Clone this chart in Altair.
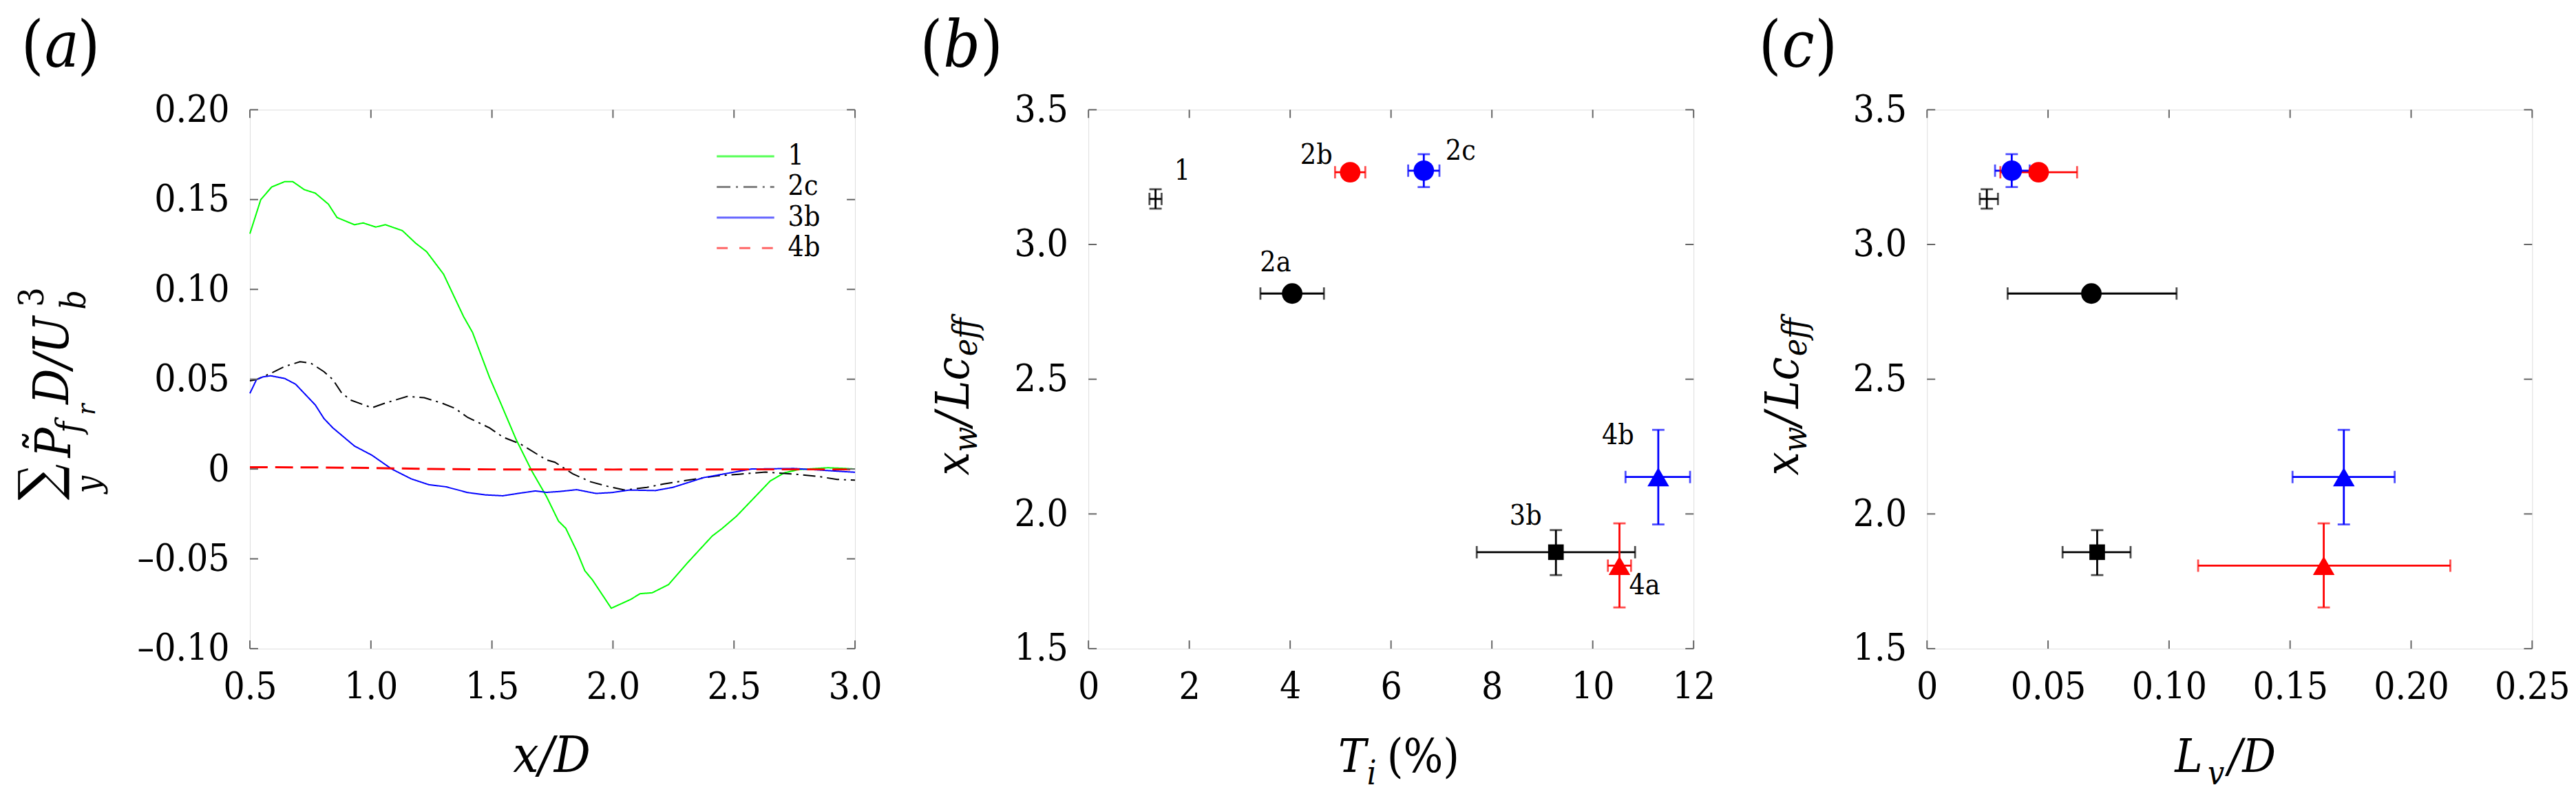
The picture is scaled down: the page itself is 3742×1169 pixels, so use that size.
import altair as alt
import pandas as pd

FONT = "DejaVu Serif Condensed, DejaVu Serif"
W, H = 884, 787
TICK = 12
FRAME = "#666666"
LABEL_FS = 55

s1_x = [0.5, 0.545, 0.59, 0.644, 0.677, 0.725, 0.77, 0.824, 0.86, 0.932, 0.968, 1.02, 1.06, 1.13,
        1.185, 1.23, 1.30, 1.383, 1.42, 1.49, 1.536, 1.60, 1.666, 1.725, 1.775, 1.805, 1.85, 1.884,
        1.914, 1.993, 2.073, 2.112, 2.162, 2.23, 2.31, 2.41, 2.45, 2.51, 2.589, 2.65, 2.708, 2.768,
        2.887, 2.946, 3.0]
s1_y = [0.131, 0.150, 0.157, 0.160, 0.160, 0.1555, 0.1536, 0.1475, 0.140, 0.136, 0.137, 0.1347,
        0.136, 0.1327, 0.1257, 0.121, 0.1085, 0.0848, 0.076, 0.051, 0.0367, 0.0164, -0.0014,
        -0.0152, -0.029, -0.033, -0.0456, -0.0567, -0.0615, -0.0775, -0.0726, -0.0694, -0.0689,
        -0.0643, -0.0519, -0.0373, -0.0332, -0.0263, -0.0152, -0.0066, -0.0021, -0.0003, 0.0007,
        0.0004, 0.0]
s2c_x = [0.5, 0.527, 0.59, 0.644, 0.707, 0.752, 0.806, 0.842, 0.878, 0.914, 1.004, 1.059, 1.149,
         1.22, 1.293, 1.347, 1.40, 1.49, 1.545, 1.617, 1.725, 1.76, 1.833, 1.905, 1.977, 2.05,
         2.14, 2.21, 2.30, 2.43, 2.52, 2.63, 2.748, 2.847, 2.926, 3.0]
s2c_y = [0.0491, 0.0498, 0.0535, 0.0571, 0.0597, 0.0589, 0.0542, 0.0499, 0.0426, 0.0385, 0.0341,
         0.0367, 0.0404, 0.0397, 0.0367, 0.0338, 0.0287, 0.0229, 0.0178, 0.014, 0.0051, 0.0038,
         -0.0026, -0.007, -0.0096, -0.0117, -0.0102, -0.0083, -0.0064, -0.0038, -0.0029, -0.0017,
         -0.0028, -0.0041, -0.0058, -0.0062]
s3b_x = [0.5, 0.527, 0.554, 0.586, 0.644, 0.689, 0.734, 0.77, 0.806, 0.842, 0.932, 1.004, 1.086,
         1.167, 1.239, 1.31, 1.40, 1.473, 1.545, 1.617, 1.68, 1.725, 1.78, 1.85, 1.93, 1.995,
         2.068, 2.175, 2.248, 2.374, 2.464, 2.572, 2.748, 2.867, 3.0]
s3b_y = [0.0421, 0.0497, 0.0513, 0.0519, 0.0504, 0.0472, 0.0408, 0.0357, 0.0281, 0.023, 0.0128,
         0.0077, 0.0, -0.0055, -0.0087, -0.0099, -0.0131, -0.0144, -0.0149, -0.0134, -0.0122,
         -0.013, -0.0125, -0.0115, -0.0136, -0.0131, -0.0117, -0.012, -0.0102, -0.0048, -0.0026,
         0.0, 0.0003, -0.0007, -0.0018]
s4b_x = [0.5, 0.75, 1.0, 1.25, 1.5, 2.0, 2.5, 3.0]
s4b_y = [0.001, 0.0009, 0.0006, 0.0, -0.0002, -0.0003, -0.0002, -0.0002]

series_names = ["1", "2c", "3b", "4b"]
series_x = [s1_x, s2c_x, s3b_x, s4b_x]
series_y = [s1_y, s2c_y, s3b_y, s4b_y]
series_color = ["#00ff00", "#000000", "#0000ff", "#ff0000"]
series_dash = [[1, 0], [18, 7, 3, 7], [1, 0], [26, 11]]
series_width = [2, 2, 2, 3]
legend_color = ["#55ff55", "#808080", "#6666ff", "#ff6666"]
legend_dash = [[1, 0], [20, 8, 3, 8], [1, 0], [16, 17]]

a_xticks = [0.5, 1.0, 1.5, 2.0, 2.5, 3.0]
a_yticks = [-0.10, -0.05, 0.0, 0.05, 0.10, 0.15, 0.20]

cases = ["1", "2a", "2b", "2c", "3b", "4a", "4b"]
Ti = [1.33, 4.04, 5.19, 6.65, 9.27, 10.53, 11.30]
Ti_lo = [1.21, 3.41, 4.89, 6.34, 7.70, 10.30, 10.65]
Ti_hi = [1.45, 4.67, 5.49, 6.96, 10.84, 10.76, 11.93]
xw = [3.169, 2.818, 3.268, 3.274, 1.858, 1.808, 2.137]
xw_lo = [3.133, 2.818, 3.268, 3.213, 1.773, 1.653, 1.961]
xw_hi = [3.205, 2.818, 3.268, 3.335, 1.940, 1.965, 2.312]
Lv = [0.0247, 0.0679, 0.0461, 0.0350, 0.0703, 0.1639, 0.1722]
Lv_lo = [0.0218, 0.0333, 0.0303, 0.0281, 0.0560, 0.1120, 0.1510]
Lv_hi = [0.0293, 0.1031, 0.0620, 0.0424, 0.0841, 0.2162, 0.1932]
pt_color = ["#000000", "#000000", "#ff0000", "#0000ff", "#000000", "#ff0000", "#0000ff"]
pt_shape = ["circle", "circle", "circle", "circle", "square", "triangle-up", "triangle-up"]
pt_size = [0, 900, 900, 900, 520, 1000, 1000]
has_yerr = [True, False, False, True, True, True, True]

lab_Ti = [1.86, 3.71, 4.52, 7.38, 8.67, 11.03, 10.50]
lab_xw = [3.27, 2.93, 3.33, 3.345, 1.99, 1.733, 2.29]

b_xticks = [0, 2, 4, 6, 8, 10, 12]
c_xticks = [0, 0.05, 0.10, 0.15, 0.20, 0.25]
bc_yticks = [1.5, 2.0, 2.5, 3.0, 3.5]

ONE = pd.DataFrame({"k": [0]})


def axis(vals, expr, pad):
    return alt.Axis(values=vals, labelExpr=expr, title=None, ticks=False, tickSize=0,
                    domain=False, grid=False, labelFont=FONT, labelFontSize=LABEL_FS,
                    labelColor="black", labelPadding=pad, labelFlush=False, labelOverlap=False)


def txt(s, x, y, size, italic=True, angle=0, align="left", baseline="alphabetic"):
    kw = dict(text=s, font=FONT, fontSize=size, fontStyle="italic" if italic else "normal",
              align=align, baseline=baseline, color="black")
    if angle:
        kw["angle"] = angle
    return alt.Chart(ONE).mark_text(**kw).encode(x=alt.value(x), y=alt.value(y))


def tick_layers(xvals, yvals, xs, ys, xa, ya):
    dx = pd.DataFrame({"v": xvals})
    dy = pd.DataFrame({"v": yvals})
    rk = dict(color=FRAME, strokeWidth=2)
    X = alt.X("v:Q", scale=xs, axis=xa)
    Y = alt.Y("v:Q", scale=ys, axis=ya)
    return [
        alt.Chart(dx).mark_rule(**rk).encode(x=X, y=alt.value(H), y2=alt.value(H - TICK)),
        alt.Chart(dx).mark_rule(**rk).encode(x=X, y=alt.value(0), y2=alt.value(TICK)),
        alt.Chart(dy).mark_rule(**rk).encode(y=Y, x=alt.value(0), x2=alt.value(TICK)),
        alt.Chart(dy).mark_rule(**rk).encode(y=Y, x=alt.value(W), x2=alt.value(W - TICK)),
    ]


TOPY = -137
PFS = 94


def panel_label(letter, x0, lw):
    return [
        txt("(", x0, TOPY, PFS, italic=False, baseline="top"),
        txt(letter, x0 + 34, TOPY, PFS, italic=True, baseline="top"),
        txt(")", x0 + 34 + lw, TOPY, PFS, italic=False, baseline="top"),
    ]


# ---------------- panel (a) ----------------
ax_s = alt.Scale(domain=[0.5, 3.0], nice=False, zero=False)
ay_s = alt.Scale(domain=[-0.10, 0.20], nice=False, zero=False)
ax_a = axis(a_xticks, "format(datum.value, '.1f')", 30)
ay_a = axis(a_yticks, "datum.value == 0 ? '0' : (datum.value < 0 ? '\u2013' : '') + format(abs(datum.value), '.2f')", 30)

layers_a = []
for name, xs_, ys_, col, dash, sw in zip(series_names, series_x, series_y, series_color,
                                          series_dash, series_width):
    df = pd.DataFrame({"x": xs_, "y": ys_})
    layers_a.append(
        alt.Chart(df).mark_line(color=col, strokeDash=dash, strokeWidth=sw)
        .encode(x=alt.X("x:Q", scale=ax_s, axis=ax_a), y=alt.Y("y:Q", scale=ay_s, axis=ay_a))
    )
layers_a += tick_layers(a_xticks, a_yticks, ax_s, ay_s, ax_a, ay_a)
for i, (name, col, dash) in enumerate(zip(series_names, legend_color, legend_dash)):
    yy = 68 + i * 44.7
    layers_a.append(alt.Chart(ONE).mark_rule(color=col, strokeDash=dash, strokeWidth=3)
                    .encode(x=alt.value(682), x2=alt.value(766), y=alt.value(yy)))
    layers_a.append(txt(name, 786, yy, 41, italic=False, baseline="middle"))
layers_a.append(txt("x/D", 441, 967, 74, align="center"))
layers_a += [
    txt("\u2211", -280, 570, 82, italic=False, angle=270),
    txt("y", -219, 560, 50, angle=270),
    txt("P", -262, 508, 72, angle=270),
    txt("\u02dc", -277, 500, 72, italic=False, angle=270),
    txt("f", -247, 472, 50, angle=270),
    txt("r", -226, 446, 38, angle=270),
    txt("D/U", -265, 430, 72, angle=270),
    txt("b", -240, 292, 50, angle=270),
    txt("3", -302, 288, 50, italic=False, angle=270),
]
layers_a += panel_label("a", -334, 48)
pa = alt.layer(*layers_a).properties(width=W, height=H)

# ---------------- panels (b) and (c) ----------------
pts = pd.DataFrame({
    "case": cases, "Ti": Ti, "Ti_lo": Ti_lo, "Ti_hi": Ti_hi,
    "xw": xw, "xw_lo": xw_lo, "xw_hi": xw_hi,
    "Lv": Lv, "Lv_lo": Lv_lo, "Lv_hi": Lv_hi,
    "col": pt_color, "shp": pt_shape, "sz": pt_size, "yerr": has_yerr,
})
yerr_pts = pts[pts["yerr"]]
labels = pd.DataFrame({"case": cases, "lx": lab_Ti, "ly": lab_xw})

y_s = alt.Scale(domain=[1.5, 3.5], nice=False, zero=False)
y_a = axis(bc_yticks, "format(datum.value, '.1f')", 30)
COL = alt.Color("col:N", scale=None)
EB = 2.8
CAP = 18


def point_panel(xf, xlo, xhi, xs, xa, xticks):
    X = lambda f: alt.X(f"{f}:Q", scale=xs, axis=xa)
    Y = lambda f: alt.Y(f"{f}:Q", scale=y_s, axis=y_a)
    base = alt.Chart(pts)
    L = [
        base.mark_rule(strokeWidth=EB).encode(x=X(xlo), x2=alt.X2(f"{xhi}:Q"), y=Y("xw"), color=COL),
        base.mark_tick(orient="vertical", size=CAP, thickness=EB).encode(x=X(xlo), y=Y("xw"), color=COL),
        base.mark_tick(orient="vertical", size=CAP, thickness=EB).encode(x=X(xhi), y=Y("xw"), color=COL),
        alt.Chart(yerr_pts).mark_rule(strokeWidth=EB).encode(x=X(xf), y=Y("xw_lo"), y2=alt.Y2("xw_hi:Q"), color=COL),
        alt.Chart(yerr_pts).mark_tick(orient="horizontal", size=CAP, thickness=EB).encode(x=X(xf), y=Y("xw_lo"), color=COL),
        alt.Chart(yerr_pts).mark_tick(orient="horizontal", size=CAP, thickness=EB).encode(x=X(xf), y=Y("xw_hi"), color=COL),
        base.mark_point(filled=True, opacity=1, strokeWidth=0).encode(
            x=X(xf), y=Y("xw"), color=COL,
            shape=alt.Shape("shp:N", scale=None), size=alt.Size("sz:Q", scale=None)),
    ]
    L += tick_layers(xticks, bc_yticks, xs, y_s, xa, y_a)
    return L


def xw_title(bx):
    return [
        txt("x", bx, 534, 68, angle=270),
        txt("w", bx + 12, 500, 48, angle=270),
        txt("/", bx, 462, 68, angle=270),
        txt("Lc", bx, 436, 68, angle=270),
        txt("eff", bx + 12, 360, 48, angle=270),
    ]


bx_s = alt.Scale(domain=[0, 12], nice=False, zero=False)
bx_a = axis(b_xticks, "format(datum.value, 'd')", 30)
layers_b = point_panel("Ti", "Ti_lo", "Ti_hi", bx_s, bx_a, b_xticks)
layers_b.append(
    alt.Chart(labels).mark_text(font=FONT, fontSize=41, color="black", align="center", baseline="middle")
    .encode(x=alt.X("lx:Q", scale=bx_s, axis=bx_a), y=alt.Y("ly:Q", scale=y_s, axis=y_a), text="case:N")
)
layers_b += [
    txt("T", 365, 967, 68),
    txt("i", 407, 985, 48),
    txt("(%)", 436, 967, 68, italic=False),
]
layers_b += xw_title(-175)
layers_b += panel_label("b", -246, 54)
pb = alt.layer(*layers_b).properties(width=W, height=H)

cx_s = alt.Scale(domain=[0, 0.25], nice=False, zero=False)
cx_a = axis(c_xticks, "datum.value == 0 ? '0' : format(datum.value, '.2f')", 30)
layers_c = point_panel("Lv", "Lv_lo", "Lv_hi", cx_s, cx_a, c_xticks)
layers_c += [
    txt("L", 362, 967, 68),
    txt("v", 410, 985, 48),
    txt("/D", 440, 967, 68),
]
layers_c += xw_title(-188)
layers_c += panel_label("c", -246, 48)
pc = alt.layer(*layers_c).properties(width=W, height=H)

chart = (
    alt.hconcat(pa, pb, pc, spacing=341, bounds="flush",
                padding={"left": 10, "top": 10, "right": 0, "bottom": 0})
    .configure_view(stroke=FRAME, strokeWidth=2)
    .configure(background="white")
)

chart.save("out.html", embed_options={"renderer": "svg", "actions": False})
